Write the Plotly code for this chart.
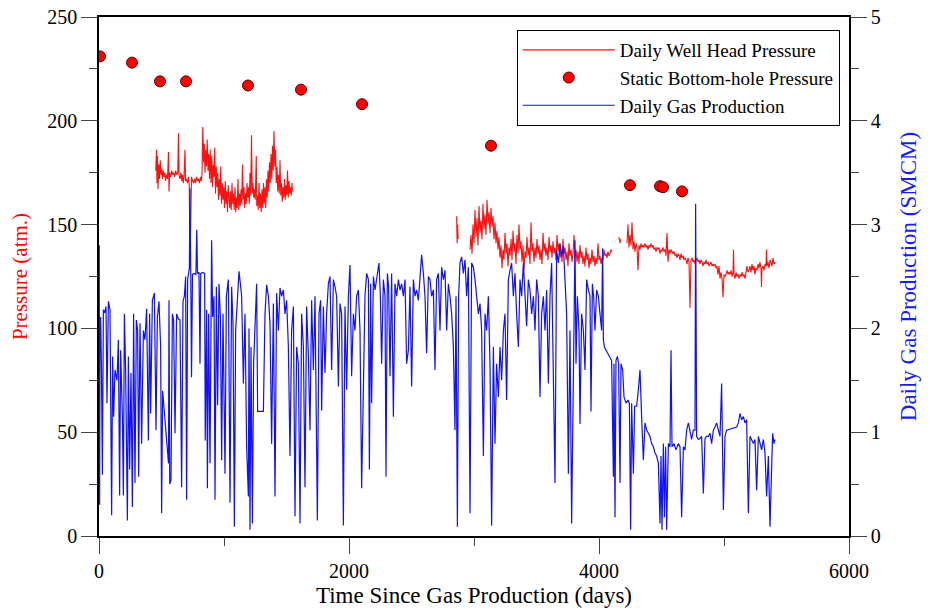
import plotly.graph_objects as go

# ---------------- data ----------------
# Daily well head pressure (atm) -- three recorded periods (day, atm)
whp_period1 = [(454,176),(460,186),(464,170),(468,183),(472,167),(478,179),(484,172),(490,181),(496,174),(502,177),(508,172),(514,176),(520,173),(526,175),(532,171),(540,174),(548,172),(556,185),(560,166),(566,175),(574,173),(582,176),(590,174),(598,175),(606,173),(614,176),(622,174),(630,175),(636,194),(640,174),(648,172),(656,175),(662,171),(668,174),(674,170),(680,173),(688,186),(692,171),(700,172),(708,170),(716,173),(722,169),(728,128),(734,170),(740,173),(748,171),(756,170),(764,172),(772,170),(780,173),(788,171),(796,172),(804,170),(812,173),(818,171),(824,174),(830,197),(836,180),(842,189),(848,175),(854,186),(860,178),(866,191),(872,176),(878,184),(884,172),(890,186),(896,170),(902,183),(908,168),(914,179),(920,173),(926,187),(932,165),(938,178),(944,168),(950,175),(956,162),(962,172),(968,164),(974,178),(980,160),(986,170),(992,162),(998,168),(1004,158),(1010,171),(1016,160),(1022,166),(1028,156),(1034,169),(1040,163),(1046,158),(1052,166),(1058,157),(1064,170),(1070,160),(1076,165),(1082,157),(1088,168),(1094,156),(1100,163),(1106,158),(1112,172),(1118,157),(1124,165),(1130,159),(1136,167),(1142,160),(1148,179),(1154,162),(1160,168),(1166,158),(1172,165),(1178,160),(1184,170),(1190,163),(1196,168),(1202,160),(1208,175),(1214,164),(1220,193),(1226,165),(1232,170),(1238,163),(1244,167),(1250,162),(1258,183),(1262,159),(1268,164),(1274,157),(1280,170),(1286,158),(1292,165),(1298,156),(1304,167),(1310,158),(1316,170),(1322,160),(1328,168),(1334,158),(1340,172),(1346,163),(1352,176),(1358,166),(1364,180),(1370,170),(1376,184),(1382,172),(1388,188),(1394,176),(1400,195),(1406,178),(1412,186),(1418,170),(1424,178),(1430,166),(1436,174),(1442,165),(1448,181),(1454,164),(1460,170),(1466,161),(1472,168),(1478,163),(1484,172),(1490,162),(1496,169),(1502,164),(1508,176),(1514,163),(1520,171),(1526,165),(1532,168),(1538,164),(1544,170),(1547,166)]
whp_period2a = [(2861,154),(2865,141),(2869,150),(2873,143)]
whp_period2 = [(2968,138),(2976,145),(2984,136),(2992,150),(3000,141),(3008,157),(3016,144),(3024,153),(3032,140),(3040,159),(3048,146),(3056,152),(3064,143),(3072,160),(3080,148),(3088,155),(3096,145),(3104,162),(3112,150),(3120,156),(3128,146),(3136,158),(3144,149),(3152,154),(3160,143),(3168,151),(3176,141),(3184,147),(3192,138),(3200,144),(3208,134),(3216,140),(3224,129),(3232,138),(3240,133),(3248,146),(3256,136),(3264,141),(3272,130),(3280,139),(3288,135),(3296,143),(3304,133),(3312,147),(3320,137),(3328,141),(3336,131),(3344,145),(3352,136),(3360,150),(3368,138),(3376,142),(3384,132),(3392,140),(3400,128),(3408,137),(3416,134),(3424,144),(3432,135),(3440,139),(3448,131),(3456,151),(3464,137),(3472,141),(3480,132),(3488,139),(3496,134),(3504,143),(3512,136),(3520,140),(3528,133),(3536,138),(3544,131),(3552,146),(3560,137),(3568,141),(3576,135),(3584,139),(3592,133),(3600,144),(3608,137),(3616,140),(3624,134),(3632,142),(3640,136),(3648,139),(3656,133),(3664,145),(3672,137),(3680,141),(3688,134),(3696,138),(3704,132),(3712,143),(3720,136),(3728,139),(3736,133),(3744,137),(3752,130),(3760,141),(3768,135),(3776,138),(3784,132),(3792,136),(3800,145),(3808,134),(3816,138),(3824,132),(3832,137),(3840,131),(3848,140),(3856,134),(3864,137),(3872,131),(3880,135),(3888,130),(3896,139),(3904,133),(3912,136),(3920,129),(3928,134),(3936,131),(3944,138),(3952,132),(3960,135),(3968,130),(3976,134),(3984,131),(3992,141),(4000,133),(4008,135),(4016,131),(4024,134),(4032,133),(4040,138),(4048,135),(4056,136),(4064,134),(4072,137),(4080,135),(4088,136),(4096,138),(4104,137)]
whp_period3a = [(4160,144),(4168,141),(4172,143)]
whp_period3 = [(4224,141),(4232,150),(4240,139),(4248,145),(4256,140),(4264,151),(4272,138),(4280,142),(4288,137),(4296,141),(4304,139),(4312,128),(4320,140),(4328,138),(4336,141),(4344,139),(4352,140),(4360,139),(4368,141),(4376,139),(4384,140),(4392,138),(4400,140),(4408,139),(4416,141),(4424,139),(4432,140),(4440,138),(4448,139),(4456,137),(4464,139),(4472,138),(4480,139),(4488,136),(4496,138),(4504,137),(4512,139),(4520,137),(4528,138),(4536,135),(4544,146),(4552,132),(4560,138),(4568,136),(4576,138),(4584,137),(4592,136),(4600,137),(4608,135),(4616,136),(4624,134),(4632,136),(4640,135),(4648,133),(4656,136),(4664,134),(4672,135),(4680,133),(4688,134),(4696,133),(4704,131),(4712,134),(4720,132),(4728,110),(4736,133),(4744,134),(4752,132),(4760,133),(4768,131),(4776,133),(4784,134),(4792,132),(4800,133),(4808,131),(4816,133),(4824,132),(4832,130),(4840,132),(4848,131),(4856,133),(4864,131),(4872,132),(4880,130),(4888,131),(4896,132),(4904,130),(4912,131),(4920,130),(4928,131),(4936,129),(4944,130),(4952,126),(4960,130),(4968,124),(4976,127),(4984,124),(4992,115),(5000,126),(5008,125),(5016,126),(5024,128),(5032,126),(5040,127),(5048,126),(5056,128),(5064,125),(5072,127),(5076,138),(5080,126),(5088,124),(5096,127),(5104,125),(5112,126),(5120,124),(5128,126),(5136,125),(5144,127),(5152,125),(5160,126),(5168,124),(5176,127),(5184,130),(5192,127),(5200,128),(5208,130),(5216,127),(5224,131),(5232,128),(5240,130),(5248,126),(5256,129),(5264,128),(5272,131),(5280,129),(5288,132),(5296,129),(5300,120),(5304,129),(5312,130),(5320,128),(5328,131),(5336,130),(5340,138),(5344,130),(5352,132),(5360,129),(5368,133),(5376,131),(5384,130),(5392,134),(5400,131),(5408,132)]

# Static bottom-hole pressure (atm)
sbhp_day = [8, 264, 488, 696, 1192, 1616, 2104, 3136, 4248, 4488, 4512, 4664]
sbhp_atm = [231, 228, 219, 219, 217, 215, 208, 188, 169, 168.5, 168, 166]

# Daily gas production (SMCM) (day, value)
gas_part1 = [(0,0.70),(2,2.80),(5,0.30),(8,1.90),(13,2.11),(20,1.60),(27,0.59),(35,2.18),(45,2.15),(56,2.21),(64,1.28),(75,2.26),(88,2.18),(101,0.20),(109,1.73),(117,1.15),(128,1.60),(144,1.50),(155,1.89),(165,0.39),(173,1.79),(187,1.15),(195,0.39),(203,2.14),(213,1.60),(227,0.15),(235,1.73),(245,0.64),(256,1.57),(267,0.28),(277,2.14),(288,0.51),(299,2.08),(309,1.98),(317,0.57),(328,2.05),(341,0.89),(355,1.98),(368,1.89),(381,2.19),(395,0.92),(405,2.14),(413,1.18),(427,2.27),(443,2.34),(456,1.02),(467,2.11),(480,2.26),(493,1.82),(501,0.22),(509,1.40),(556,0.70),(560,2.27),(566,0.50),(576,0.54),(587,2.14),(597,2.08),(608,0.99),(621,2.14),(635,2.09),(648,2.08),(661,0.47),(672,2.26),(683,2.31),(693,2.50),(701,0.35),(709,2.47),(723,2.58),(728,3.35),(734,2.55),(740,1.53),(748,2.52),(760,2.53),(775,2.52),(782,2.95),(788,2.53),(800,2.54),(808,1.66),(814,2.53),(830,2.54),(845,2.53),(850,0.92),(861,2.18),(867,0.46),(877,2.14),(888,0.70),(901,2.85),(909,2.11),(920,2.31),(928,0.35),(939,2.40),(949,1.26),(960,2.43),(971,2.11),(981,0.73),(992,2.14),(1008,0.60),(1019,2.31),(1035,2.47),(1048,0.32),(1061,2.40),(1072,2.05),(1083,0.09),(1093,1.98),(1107,2.31),(1120,2.55),(1131,2.43),(1141,2.31),(1155,1.47),(1168,2.14),(1181,0.86),(1195,0.38),(1200,2.00),(1208,0.06),(1216,1.82),(1227,0.12),(1237,1.66),(1248,1.98),(1261,2.43),(1269,1.20),(1315,1.20),(1328,2.14),(1341,2.42),(1355,2.31),(1368,2.05),(1381,0.89),(1395,2.24),(1408,0.38),(1421,2.34),(1435,1.98),(1448,2.39),(1461,2.31),(1475,2.37),(1488,2.14),(1501,2.27),(1515,1.82),(1528,0.77),(1541,1.98),(1555,2.21),(1568,0.19),(1581,1.82),(1595,1.66),(1608,0.12),(1621,2.14),(1635,1.82)]
gas_part2 = [(1648,0.47),(1661,2.21),(1675,1.73),(1688,1.02),(1701,2.27),(1715,1.60),(1728,2.31),(1747,0.15),(1760,2.14),(1773,2.27),(1781,1.21),(1795,2.21),(1808,1.57),(1821,2.14),(1835,2.43),(1848,2.50),(1861,1.60),(1875,2.47),(1888,2.40),(1901,2.31),(1915,1.44),(1928,2.24),(1941,2.14),(1955,0.10),(1968,2.21),(1981,1.41),(1995,2.31),(2008,2.61),(2021,1.54),(2035,2.14),(2048,1.98),(2061,2.31),(2075,2.37),(2088,1.98),(2101,0.46),(2115,1.28),(2128,2.31),(2141,2.53),(2155,2.47),(2163,0.64),(2173,2.43),(2181,1.28),(2195,2.50),(2208,2.37),(2221,2.47),(2240,2.63),(2251,2.31),(2261,1.66),(2275,2.47),(2288,2.31),(2296,0.57),(2307,2.53),(2317,2.40),(2328,1.54),(2341,2.53),(2355,1.15),(2368,2.43),(2381,2.31),(2395,2.47),(2408,2.37),(2421,2.43),(2435,2.31),(2448,2.47),(2461,1.66),(2475,1.79),(2488,2.40),(2501,1.44),(2515,2.47),(2528,2.31),(2541,2.37),(2555,2.27),(2568,2.47),(2581,2.71),(2595,2.53),(2608,2.31),(2621,1.76),(2635,2.50),(2648,2.47),(2661,2.31),(2675,2.37),(2688,1.60),(2701,2.47),(2715,2.53),(2728,1.98),(2741,2.59),(2755,2.47),(2768,2.56),(2781,1.98),(2795,2.43),(2808,2.31),(2821,2.14),(2835,1.82),(2848,1.02),(2856,2.31),(2867,0.09),(2877,2.31),(2888,2.63),(2901,2.69),(2915,2.53),(2928,2.66),(2941,2.31),(2955,2.59),(2968,0.22),(2981,2.63),(2995,2.59),(3008,2.47),(3021,2.31),(3035,2.14),(3048,2.24),(3061,1.98),(3075,0.77),(3088,2.14),(3101,1.98),(3115,2.31),(3128,1.66),(3141,0.10),(3155,1.82),(3168,0.89),(3181,1.66),(3195,1.34),(3208,1.82),(3221,1.50),(3235,1.98),(3248,2.14),(3261,1.31),(3275,2.47),(3288,2.56)]
gas_part3 = [(3301,2.63),(3315,2.31),(3328,2.53),(3341,2.14),(3355,1.82),(3368,2.47),(3381,2.31),(3395,2.63),(3408,2.37),(3421,2.02),(3435,2.47),(3448,2.37),(3461,2.14),(3475,2.31),(3488,1.98),(3501,2.47),(3515,2.31),(3528,1.34),(3541,2.14),(3555,2.31),(3568,1.98),(3581,2.37),(3595,1.47),(3608,2.31),(3621,2.63),(3635,1.31),(3648,0.51),(3661,2.75),(3675,2.63),(3688,2.82),(3701,2.69),(3715,2.79),(3728,2.47),(3741,2.14),(3755,0.60),(3768,1.98),(3781,0.12),(3795,1.82),(3808,2.85),(3816,1.66),(3827,2.31),(3840,1.98),(3848,1.08),(3861,2.14),(3875,1.98),(3888,1.60),(3901,2.47),(3915,2.37),(3928,2.31),(3936,1.20),(3947,2.43),(3957,2.31),(3968,1.98),(3981,2.37),(3995,2.31),(4008,2.14),(4021,1.98),(4029,2.77),(4035,1.89)]
gas_part4 = [(4043,1.82),(4056,1.79),(4075,1.76),(4088,1.73),(4101,1.69),(4115,0.57),(4120,1.66),(4128,0.18),(4136,1.69),(4147,1.73),(4157,1.66),(4168,0.51),(4176,1.66),(4189,1.60),(4200,1.34),(4216,1.28),(4232,1.31),(4243,1.28),(4253,0.06),(4261,1.28),(4275,0.60),(4285,1.25),(4301,1.25),(4315,1.41),(4328,1.60),(4341,1.15),(4355,0.73),(4368,1.09),(4381,1.02),(4395,0.99),(4408,0.96),(4421,0.89),(4435,0.86),(4448,0.80),(4461,0.77),(4475,0.70),(4488,0.12),(4496,0.77),(4504,0.06),(4515,0.89),(4523,0.18),(4533,0.86),(4541,0.06),(4555,0.89),(4568,0.86),(4576,1.79),(4584,0.86),(4600,0.89),(4616,0.83),(4635,0.89),(4648,0.86),(4661,0.18),(4675,0.86),(4688,0.83),(4701,1.02),(4715,1.09),(4728,1.02),(4741,0.93),(4755,1.02),(4768,1.02),(4773,3.20),(4781,0.96),(4795,0.93),(4808,0.94),(4821,0.96),(4835,0.41),(4848,0.94),(4861,0.96),(4875,0.96),(4888,0.99),(4901,0.89),(4915,1.02),(4928,1.05),(4941,1.09),(4955,1.02),(4968,0.96),(4981,1.47),(4995,0.25),(5008,0.96),(5021,1.02),(5101,1.05),(5115,1.09),(5128,1.18),(5141,1.12),(5155,1.15),(5168,1.09),(5181,1.12),(5195,0.22),(5208,0.96),(5221,0.93),(5235,0.89),(5248,0.93),(5261,0.44),(5275,0.96),(5288,0.89),(5301,0.83),(5315,0.93),(5328,0.80),(5341,0.38),(5355,0.77),(5368,0.09),(5381,0.57),(5389,0.99),(5400,0.89),(5408,0.93)]

x_ticks = [0, 2000, 4000, 6000]
left_ticks = [0, 50, 100, 150, 200, 250]
right_ticks = [0, 1, 2, 3, 4, 5]


def join(*segments):
    xs, ys = [], []
    for i, seg in enumerate(segments):
        if i:
            xs.append(None)
            ys.append(None)
        xs += [p[0] for p in seg]
        ys += [p[1] for p in seg]
    return xs, ys


whp_x, whp_y = join(whp_period1, whp_period2a, whp_period2, whp_period3a, whp_period3)
gas_x, gas_y = join(gas_part1 + gas_part2 + gas_part3 + gas_part4)

FONT = "Liberation Serif, Times New Roman, serif"

fig = go.Figure()
fig.add_trace(go.Scatter(x=whp_x, y=whp_y, mode="lines", connectgaps=False,
                         line=dict(color="#ff1010", width=1.1),
                         name="Daily Well Head Pressure"))
fig.add_trace(go.Scatter(x=sbhp_day, y=sbhp_atm, mode="markers",
                         marker=dict(size=11, color="#ff0000",
                                     line=dict(color="#5a0000", width=1)),
                         name="Static Bottom-hole Pressure"))
fig.add_trace(go.Scatter(x=gas_x, y=gas_y, mode="lines", yaxis="y2",
                         line=dict(color="#1010ff", width=1.2),
                         name="Daily Gas Production"))

axis_common = dict(showgrid=False, zeroline=False, showline=True,
                   linecolor="black", linewidth=1.5, ticks="outside",
                   ticklen=16, tickwidth=1, tickcolor="#444", automargin=False,
                   tickfont=dict(family=FONT, size=20, color="black"))

fig.update_layout(
    width=931, height=614,
    margin=dict(l=99, r=82, t=17, b=78, autoexpand=False),
    paper_bgcolor="white", plot_bgcolor="white",
    font=dict(family=FONT, size=19, color="black"),
    xaxis=dict(range=[0, 6000], tickvals=x_ticks, mirror=True,
               minor=dict(dtick=1000, ticks="outside", ticklen=8, tickcolor="#444"),
               title=dict(text="Time Since Gas Production (days)",
                          font=dict(family=FONT, size=23, color="black"), standoff=6),
               **axis_common),
    yaxis=dict(range=[0, 250], tickvals=left_ticks, mirror=True,
               minor=dict(dtick=25, ticks="outside", ticklen=8, tickcolor="#444"),
               title=dict(text="Pressure (atm.)",
                          font=dict(family=FONT, size=21, color="red"), standoff=14),
               **axis_common),
    yaxis2=dict(range=[0, 5], tickvals=right_ticks, overlaying="y", side="right",
                minor=dict(dtick=0.5, ticks="outside", ticklen=8, tickcolor="#444"),
                title=dict(text="Daily Gas Production (SMCM)",
                           font=dict(family=FONT, size=23, color="#1a1aff"), standoff=20),
                **axis_common),
    legend=dict(x=0.557, y=0.975, xanchor="left", yanchor="top",
                bgcolor="white", bordercolor="black", borderwidth=1,
                font=dict(family=FONT, size=19, color="black"),
                itemwidth=92, tracegroupgap=0),
    showlegend=True,
)

# remove the browser's default 8px body margin so the figure sits at the page origin
fig.write_html("out.html", config={"displayModeBar": False},
               post_script="document.body.style.margin='0';document.body.style.overflow='hidden';")
